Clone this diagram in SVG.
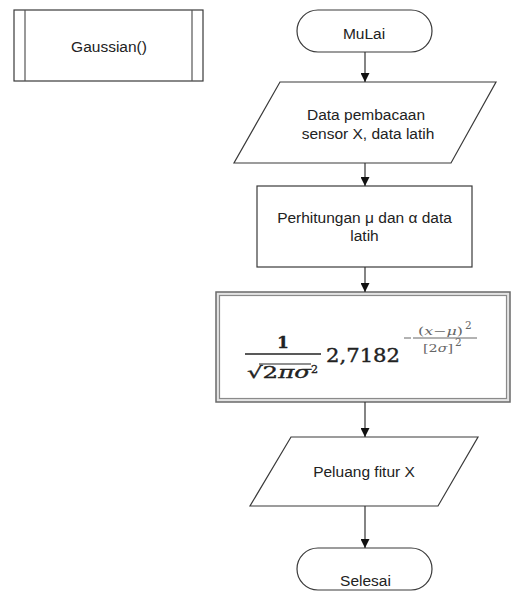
<svg xmlns="http://www.w3.org/2000/svg" width="514" height="591" viewBox="0 0 514 591">
  <defs>
    <marker id="arrow" viewBox="0 0 10 10" refX="10" refY="5" markerWidth="9" markerHeight="9" markerUnits="userSpaceOnUse" orient="auto">
      <path d="M0,0 L10,5 L0,10 Z" fill="#111"/>
    </marker>
    <style>
      .shape { fill: #fff; stroke: #3a3a3a; stroke-width: 1.2; }
      .label { font-family: "Liberation Sans", Arial, sans-serif; font-size: 15.5px; fill: #222; text-anchor: middle; }
      .edge { stroke: #333; stroke-width: 1.2; fill: none; marker-end: url(#arrow); }
      .math { font-family: "DejaVu Serif", "Liberation Serif", serif; fill: #222; stroke: #222; stroke-width: 0.35; }
      .expo { font-family: "DejaVu Serif", "Liberation Serif", serif; fill: #666; font-size: 10.5px; }
    </style>
  </defs>

  <!-- predefined process: Gaussian() -->
  <g id="gaussian">
    <rect class="shape" x="14" y="10" width="189" height="71" stroke="#555"/>
    <line x1="25" y1="10" x2="25" y2="81" stroke="#555" stroke-width="1.2"/>
    <line x1="192" y1="10" x2="192" y2="81" stroke="#555" stroke-width="1.2"/>
    <text class="label" x="109" y="52">Gaussian()</text>
  </g>

  <!-- start terminal -->
  <g id="mulai">
    <rect class="shape" x="297" y="10" width="135" height="42" rx="21" ry="21"/>
    <text class="label" x="364" y="39">MuLai</text>
  </g>

  <!-- input: sensor readings and training data -->
  <g id="input-data">
    <polygon class="shape" points="280,82 496,82 451,163 234,163"/>
    <text class="label" x="366" y="120">Data pembacaan</text>
    <text class="label" x="368" y="139">sensor X, data latih</text>
  </g>

  <!-- process: mean and deviation -->
  <g id="perhitungan">
    <rect class="shape" x="257" y="186" width="215" height="81"/>
    <text class="label" x="364.5" y="223">Perhitungan μ dan α  data</text>
    <text class="label" x="364.5" y="241">latih</text>
  </g>

  <!-- Gaussian formula block -->
  <g id="rumus">
    <rect x="216" y="292" width="294" height="110" fill="#e4e4e4" stroke="#6a6a6a" stroke-width="1.5"/>
    <rect x="219.5" y="295.5" width="287" height="103" fill="#fff" stroke="#8a8a8a" stroke-width="1.2"/>
    <!-- 1 / sqrt(2 pi sigma^2) -->
    <text class="math" x="283" y="348" font-size="17" font-weight="bold" text-anchor="middle">1</text>
    <line x1="245" y1="354" x2="321" y2="354" stroke="#222" stroke-width="1.6"/>
    <line x1="259" y1="364" x2="311" y2="364" stroke="#222" stroke-width="1.1"/>
    <text class="math" x="247" y="378" font-size="16" textLength="64" lengthAdjust="spacingAndGlyphs">√2<tspan font-style="italic">πσ</tspan></text>
    <text class="math" x="311" y="373" font-size="11">2</text>
    <!-- base -->
    <text class="math" x="326" y="362" font-size="18" textLength="74" lengthAdjust="spacingAndGlyphs">2,7182</text>
    <!-- exponent: -(x-mu)^2 / [2 sigma]^2 -->
    <line x1="404" y1="338" x2="411" y2="338" stroke="#666" stroke-width="1"/>
    <line x1="413" y1="338" x2="477" y2="338" stroke="#666" stroke-width="1"/>
    <text class="expo" x="418" y="335" textLength="45" lengthAdjust="spacingAndGlyphs">(<tspan font-style="italic">x</tspan>−<tspan font-style="italic">μ</tspan>)</text>
    <text class="expo" x="465" y="329" font-size="8">2</text>
    <text class="expo" x="423" y="352" textLength="30" lengthAdjust="spacingAndGlyphs">[2<tspan font-style="italic">σ</tspan>]</text>
    <text class="expo" x="455" y="346" font-size="8">2</text>
  </g>

  <!-- output: probability -->
  <g id="peluang">
    <polygon class="shape" points="291,437 478,437 438,506 250,506"/>
    <text class="label" x="364" y="477">Peluang fitur X</text>
  </g>

  <!-- end terminal -->
  <g id="selesai">
    <rect class="shape" x="297" y="548" width="135" height="42" rx="21" ry="21"/>
    <text class="label" x="365.5" y="586">Selesai</text>
  </g>

  <!-- connectors -->
  <g id="connectors">
    <line class="edge" x1="365" y1="52" x2="365" y2="82"/>
    <line class="edge" x1="365" y1="163" x2="365" y2="186"/>
    <line class="edge" x1="365" y1="267" x2="365" y2="292"/>
    <line class="edge" x1="365" y1="402" x2="365" y2="437"/>
    <line class="edge" x1="365" y1="506" x2="365" y2="548"/>
  </g>
</svg>
